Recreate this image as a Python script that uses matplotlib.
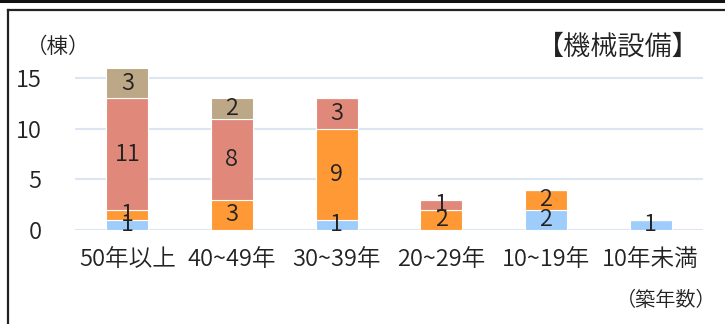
import numpy as np
import matplotlib
matplotlib.use("Agg")
import matplotlib.pyplot as plt
from matplotlib.lines import Line2D

plt.rcParams['font.family'] = ['Noto Sans CJK JP', 'DejaVu Sans']
plt.rcParams['font.weight'] = 350

categories = ["50年以上", "40~49年", "30~39年", "20~29年", "10~19年", "10年未満"]
blue = [1, 0, 1, 0, 2, 1]
orange = [1, 3, 9, 2, 2, 0]
salmon = [11, 8, 3, 1, 0, 0]
tan = [3, 2, 0, 0, 0, 0]

series = [blue, orange, salmon, tan]
colors = ["#9fcdfb", "#fe9935", "#e0897b", "#bca786"]

W, H = 725, 324
fig = plt.figure(figsize=(W / 100, H / 100), dpi=100)
ax = fig.add_axes([75 / W, (H - 230) / H, 628 / W, 162 / H])

x = np.arange(len(categories))
bottom = np.zeros(len(categories))
for vals, c in zip(series, colors):
    vals = np.array(vals, dtype=float)
    ax.bar(x, vals, 0.4, bottom=bottom, color=c, edgecolor="white", linewidth=0.8, zorder=3)
    for xi, v, b in zip(x, vals, bottom):
        if v > 0:
            ax.text(xi, b + v / 2, f"{int(v)}", ha="center", va="center",
                    fontsize=17, color="#222222", zorder=4)
    bottom += vals

ax.set_xlim(-0.5, 5.5)
ax.set_ylim(0, 16)
ax.set_yticks([0, 5, 10, 15])
ax.set_xticks(x)
ax.set_xticklabels(categories, fontsize=17, color="#222222")
ax.tick_params(axis="y", labelsize=17, labelcolor="#222222", length=0, pad=24)
ax.tick_params(axis="x", length=0, pad=13)
ax.grid(axis="y", color="#dce6f2", linewidth=1.5, zorder=0)
for s in ax.spines.values():
    s.set_visible(False)

fig.text(26 / W, 1 - 47 / H, "（棟）", fontsize=15.5, va="center", ha="left", color="#222222")
fig.text(700 / W, 1 - 47 / H, "【機械設備】", fontsize=19.5, va="center", ha="right", color="#222222")
fig.text(716 / W, 1 - 301 / H, "（築年数）", fontsize=14.5, va="center", ha="right", color="#222222")

# frame lines
fig.add_artist(Line2D([0, 1], [1 - 1 / H, 1 - 1 / H], color="#111111", linewidth=2.2))
fig.add_artist(Line2D([8 / W, 1], [1 - 10 / H, 1 - 10 / H], color="#222222", linewidth=1.6))
fig.add_artist(Line2D([8 / W, 8 / W], [0, 1 - 10 / H], color="#222222", linewidth=1.6))

fig.savefig("out.png", dpi=100)
